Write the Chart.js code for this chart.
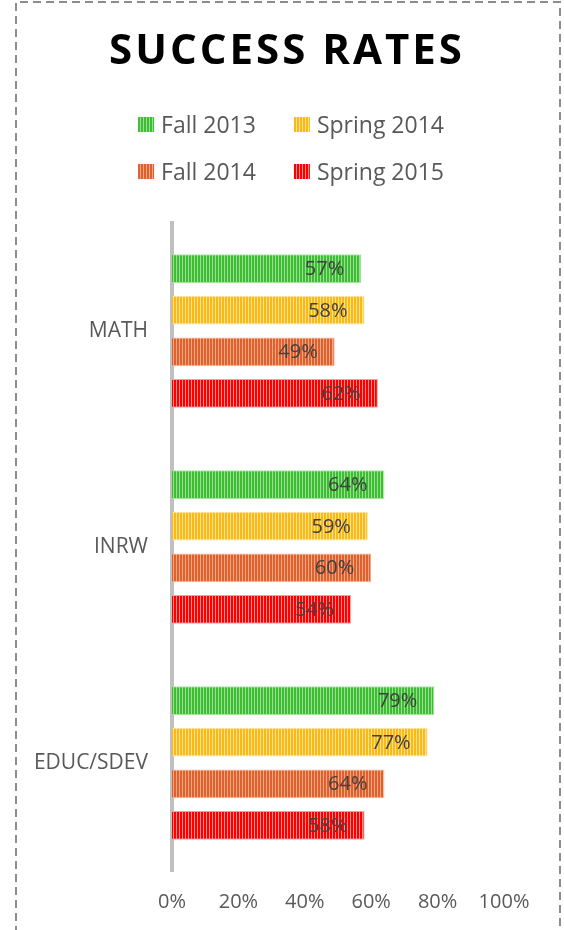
<!DOCTYPE html>
<html>
<head>
<meta charset="utf-8">
<title>Success Rates</title>
<script src="https://cdn.jsdelivr.net/npm/chart.js@4"></script>
<style>
  html, body { margin: 0; padding: 0; background: #fff; }
  #wrap { position: relative; width: 564px; height: 930px; }
</style>
</head>
<body>
<div id="wrap"><canvas id="successChart" width="564" height="930"></canvas></div>
<script>
const categories = ["MATH", "INRW", "EDUC/SDEV"];
const seriesNames = ["Fall 2013", "Spring 2014", "Fall 2014", "Spring 2015"];
const fall2013 = [57, 64, 79];
const spring2014 = [58, 59, 77];
const fall2014 = [49, 60, 64];
const spring2015 = [62, 54, 58];
const xTickStep = 20;
const xMax = 100;

const canvas = document.getElementById("successChart");
const ctx = canvas.getContext("2d");

// vertical stripe fill like the excel pattern
function stripes(dark, light) {
  const p = document.createElement("canvas");
  p.width = 3;
  p.height = 4;
  const c = p.getContext("2d");
  c.fillStyle = dark;
  c.fillRect(0, 0, 3, 4);
  c.fillStyle = light;
  c.fillRect(2, 0, 1, 4);
  return ctx.createPattern(p, "repeat");
}

const fills = [
  stripes("#3dbd33", "#9adf92"), // green
  stripes("#fbb917", "#fde38f"), // yellow
  stripes("#e0602c", "#f2a886"), // orange
  stripes("#ff0000", "#ff9090"), // red
];
const edges = ["#a6e39f", "#fde59a", "#f3b092", "#ff9c9c"];
const values = [fall2013, spring2014, fall2014, spring2015];

const headerPlugin = {
  id: "header",
  beforeDraw(chart) {
    const c = chart.ctx;
    c.save();
    // dashed frame
    c.strokeStyle = "#8c8c8c";
    c.lineWidth = 2;
    c.setLineDash([8, 5]);
    c.beginPath();
    c.moveTo(16, 960);
    c.lineTo(16, 2);
    c.lineTo(560, 2);
    c.lineTo(560, 960);
    c.stroke();
    c.setLineDash([]);

    // title
    c.fillStyle = "#000";
    c.font = "bold 42px 'Open Sans'";
    c.letterSpacing = "3px";
    c.textAlign = "center";
    c.textBaseline = "middle";
    c.fillText("SUCCESS RATES", 287, 52);
    c.letterSpacing = "0px";

    // legend, 2 x 2
    c.font = "23px 'Open Sans'";
    c.textAlign = "left";
    const w = chart.data.datasets.map((d) => c.measureText(d.label).width);
    const box = 16, gap = 7, colGap = 38;
    const col1 = box + gap + Math.max(w[0], w[2]);
    const col2 = box + gap + Math.max(w[1], w[3]);
    const startX = 291 - (col1 + colGap + col2) / 2;
    const rowsY = [125, 172];
    chart.data.datasets.forEach((d, i) => {
      const x = startX + (i % 2 === 0 ? 0 : col1 + colGap);
      const y = rowsY[Math.floor(i / 2)];
      c.fillStyle = d.backgroundColor;
      c.fillRect(x, y - 8, box, 15);
      c.fillStyle = "#595959";
      c.fillText(d.label, x + box + gap, y + 1);
    });
    c.restore();
  },
};

const labelPlugin = {
  id: "barLabels",
  afterDatasetsDraw(chart) {
    const c = chart.ctx;
    c.save();
    c.font = "20px 'Open Sans'";
    c.fillStyle = "#404040";
    c.textAlign = "right";
    c.textBaseline = "middle";
    chart.data.datasets.forEach((d, i) => {
      chart.getDatasetMeta(i).data.forEach((bar, j) => {
        c.fillText(d.data[j] + "%", bar.x - 17, bar.y + 1);
      });
    });
    c.restore();
  },
};

const chart = new Chart(ctx, {
  type: "bar",
  data: {
    labels: categories,
    datasets: seriesNames.map((name, i) => ({
      label: name,
      data: values[i],
      backgroundColor: fills[i],
      borderColor: edges[i],
      borderWidth: 1,
      borderSkipped: "left",
      categoryPercentage: 0.77,
      barPercentage: 0.69,
    })),
  },
  options: {
    indexAxis: "y",
    responsive: false,
    animation: false,
    layout: { padding: { top: 223, right: 60, bottom: 0, left: 0 } },
    plugins: {
      legend: { display: false },
      title: { display: false },
      tooltip: { enabled: false },
    },
    scales: {
      x: {
        min: 0,
        max: xMax,
        ticks: {
          stepSize: xTickStep,
          color: "#595959",
          font: { family: "'Open Sans'", size: 20 },
          padding: 19,
          callback: (v) => v + "%",
        },
        grid: { display: false, drawTicks: false },
        border: { display: false },
        afterFit: (s) => { s.height = 59; },
      },
      y: {
        ticks: {
          color: "#595959",
          font: { family: "'Open Sans'", size: 21 },
          padding: 24,
        },
        grid: { display: false, drawTicks: false },
        border: { display: true, color: "#bfbfbf", width: 4 },
        afterFit: (s) => { s.width = 172; },
      },
    },
  },
  plugins: [headerPlugin, labelPlugin],
});
</script>
</body>
</html>
